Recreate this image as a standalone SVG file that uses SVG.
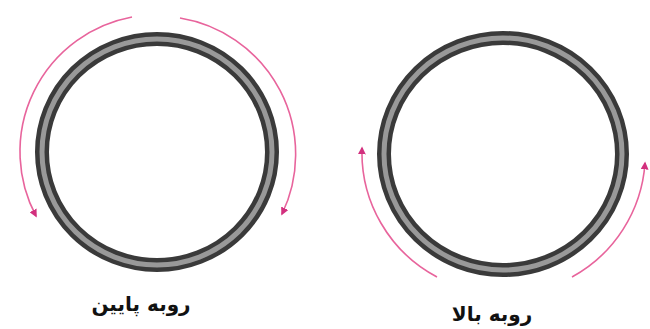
<svg xmlns="http://www.w3.org/2000/svg" width="650" height="329" viewBox="0 0 650 329">
<defs>
<style>
.ring-out{fill:none;stroke:#3a3a3a;stroke-width:14}
.ring-in{fill:none;stroke:#999;stroke-width:5}
.arc{fill:none;stroke:#e8649c;stroke-width:1.6}
.lbl{font-family:"DejaVu Sans",sans-serif;font-weight:bold;font-size:20px;fill:#111;text-anchor:middle}
</style>
<marker id="ah" viewBox="0 0 10 10" refX="8" refY="5" markerWidth="8" markerHeight="8" orient="auto" markerUnits="userSpaceOnUse">
<path d="M0,0 L10,5 L0,10 z" fill="#d2307e"/>
</marker>
</defs>
<rect width="650" height="329" fill="#fff"/>
<g id="ring-down">
<ellipse class="ring-out" cx="157" cy="152" rx="115" ry="113"/>
<ellipse class="ring-in" cx="157" cy="152" rx="115" ry="113"/>
</g>
<g id="ring-up">
<ellipse class="ring-out" cx="503" cy="154" rx="119" ry="116"/>
<ellipse class="ring-in" cx="503" cy="154" rx="119" ry="116"/>
</g>
<g id="connectors">
<path class="arc" d="M132,17 A137,137 0 0 0 36,216" marker-end="url(#ah)"/>
<path class="arc" d="M180,18 A138,138 0 0 1 282,214" marker-end="url(#ah)"/>
<path class="arc" d="M437,277 A141,141 0 0 1 362,148" marker-end="url(#ah)"/>
<path class="arc" d="M572,277 A141,141 0 0 0 645,163" marker-end="url(#ah)"/>
</g>
<g id="label-down"><text class="lbl" x="141" y="311">روبه پایین</text></g>
<g id="label-up"><text class="lbl" x="492" y="321">روبه بالا</text></g>
</svg>
